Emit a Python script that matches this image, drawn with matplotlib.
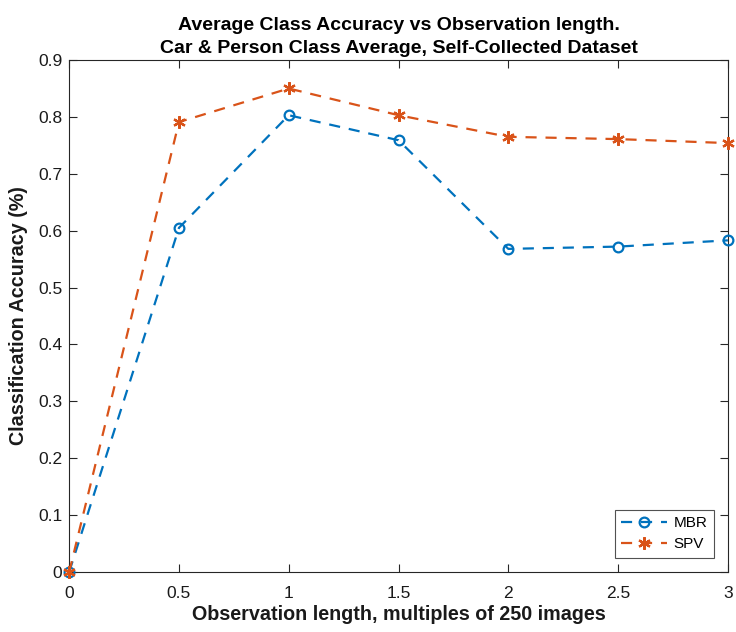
import matplotlib
matplotlib.use("Agg")
import matplotlib.pyplot as plt

plt.rcParams['font.family'] = ['Liberation Sans', 'DejaVu Sans']

obs_length = [0, 0.5, 1, 1.5, 2, 2.5, 3]
mbr_acc = [0.0, 0.605, 0.803, 0.759, 0.568, 0.572, 0.583]
spv_acc = [0.0, 0.791, 0.850, 0.803, 0.765, 0.761, 0.754]

x_ticks = [0, 0.5, 1, 1.5, 2, 2.5, 3]
x_tick_labels = ['0', '0.5', '1', '1.5', '2', '2.5', '3']
y_ticks = [0, 0.1, 0.2, 0.3, 0.4, 0.5, 0.6, 0.7, 0.8, 0.9]
y_tick_labels = ['0', '0.1', '0.2', '0.3', '0.4', '0.5', '0.6', '0.7', '0.8', '0.9']

blue = (0.0, 0.447, 0.741)
orange = (0.85, 0.325, 0.098)
axis_gray = (0.15, 0.15, 0.15)

fig = plt.figure(figsize=(7.36, 6.32), dpi=100)
ax = fig.add_axes([0.094, 0.095, 0.895, 0.810])

ax.plot(obs_length, mbr_acc, linestyle=(0, (5, 4)), color=blue, lw=1.6,
        marker='o', markersize=7, markerfacecolor='none', markeredgewidth=1.6,
        label='MBR', clip_on=False, zorder=3)
ax.plot(obs_length, spv_acc, linestyle=(0, (5, 4)), color=orange, lw=1.6,
        marker=(6, 2, 0), markersize=9, markeredgewidth=1.6,
        label='SPV', clip_on=False, zorder=3)

ax.set_xlim(0, 3)
ax.set_ylim(0, 0.9)
ax.set_xticks(x_ticks)
ax.set_xticklabels(x_tick_labels)
ax.set_yticks(y_ticks)
ax.set_yticklabels(y_tick_labels)

for s in ax.spines.values():
    s.set_color(axis_gray)
    s.set_linewidth(0.8)
ax.tick_params(direction='in', top=True, right=True, length=6, width=0.8,
               colors=axis_gray, labelsize=12.5)
ax.tick_params(axis='x', pad=10)
ax.tick_params(axis='y', pad=5)
for lbl in ax.get_xticklabels() + ax.get_yticklabels():
    lbl.set_color((0.1, 0.1, 0.1))

ax.set_xlabel('Observation length, multiples of 250 images', fontsize=14.2,
              fontweight='bold', color=(0.1, 0.1, 0.1), labelpad=3)
ax.set_ylabel('Classification Accuracy (%)', fontsize=14.2,
              fontweight='bold', color=(0.1, 0.1, 0.1), labelpad=7)
ax.set_title('Average Class Accuracy vs Observation length.\n'
             'Car & Person Class Average, Self-Collected Dataset',
             fontsize=14, fontweight='bold', color='black', pad=5,
             linespacing=1.5)

leg = ax.legend(loc='lower right', fontsize=11, frameon=True, fancybox=False,
                edgecolor=axis_gray, handlelength=3.0, borderaxespad=0.9,
                borderpad=0.45, labelspacing=0.45, handletextpad=0.4)
leg.get_frame().set_linewidth(0.8)

fig.savefig('out.png', dpi=100)
